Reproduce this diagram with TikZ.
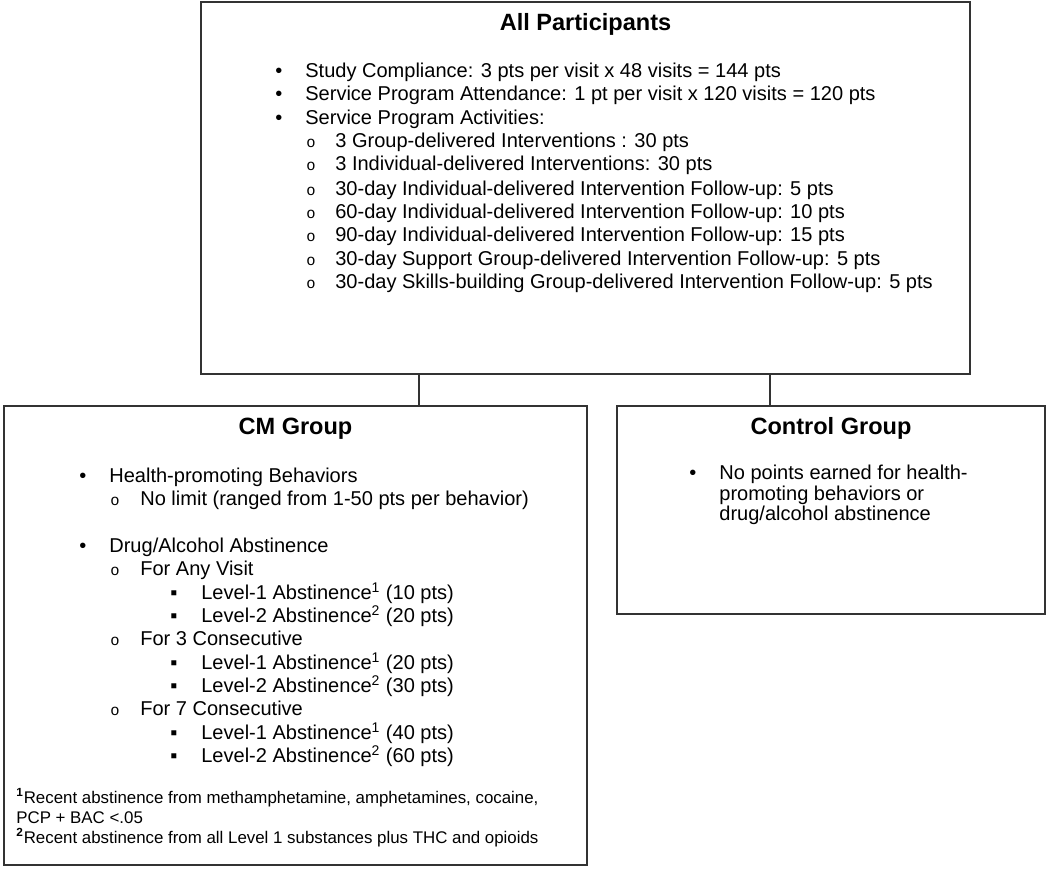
\documentclass[tikz,border=0pt]{standalone}
\usepackage{fontspec}
\setmainfont{Liberation Sans}
\newfontfamily\markfont{Liberation Mono}

\begin{document}
\begin{tikzpicture}[x=0.02cm, y=-0.02cm,
  box/.style={draw=black!80, line width=0.8pt, inner sep=0},
  link/.style={draw=black!80, line width=0.8pt},
  title/.style={anchor=base, inner sep=0, font=\fontsize{13.4}{16}\selectfont\bfseries},
  item/.style={anchor=base west, inner sep=0, font=\fontsize{11.4}{13}\selectfont},
  note/.style={anchor=base west, inner sep=0, font=\fontsize{9.6}{11}\selectfont},
  dot/.style={item},
  ring/.style={anchor=base west, inner sep=0, font=\fontsize{8.8}{11}\markfont},
  square/.style={item}]
  \useasboundingbox (0,0) rectangle (1050,868);

  % Boxes
  \node[box, minimum width=15.38cm, minimum height=7.44cm] (all) at (585.5,188) {};
  \node[box, minimum width=11.66cm, minimum height=9.18cm] (cm) at (295.5,635.5) {};
  \node[box, minimum width=8.56cm, minimum height=4.16cm] (control) at (831,510) {};

  % Connectors
  \coordinate (cmjoin) at (419,406);
  \coordinate (controljoin) at (770,406);
  \draw[link] (all.south -| cmjoin) -- (cmjoin);
  \draw[link] (all.south -| controljoin) -- (controljoin);

  % All Participants
  \node[title] (alltitle) at (585.5,31) {All Participants};
  \node[dot] (a1b) at (275,78) {•};
  \node[item] (a1) at (305,78) {Study Compliance: 3 pts per visit x 48 visits = 144 pts};
  \node[dot] (a2b) at (275,101) {•};
  \node[item] (a2) at (305,101) {Service Program Attendance: 1 pt per visit x 120 visits = 120 pts};
  \node[dot] (a3b) at (275,125) {•};
  \node[item] (a3) at (305,125) {Service Program Activities:};
  \node[ring] (a4b) at (306,148) {o};
  \node[item] (a4) at (335,148) {3 Group-delivered Interventions : 30 pts};
  \node[ring] (a5b) at (306,171) {o};
  \node[item] (a5) at (335,171) {3 Individual-delivered Interventions: 30 pts};
  \node[ring] (a6b) at (306,195) {o};
  \node[item] (a6) at (335,195) {30-day Individual-delivered Intervention Follow-up: 5 pts};
  \node[ring] (a7b) at (306,218) {o};
  \node[item] (a7) at (335,218) {60-day Individual-delivered Intervention Follow-up: 10 pts};
  \node[ring] (a8b) at (306,241) {o};
  \node[item] (a8) at (335,241) {90-day Individual-delivered Intervention Follow-up: 15 pts};
  \node[ring] (a9b) at (306,265) {o};
  \node[item] (a9) at (335,265) {30-day Support Group-delivered Intervention Follow-up: 5 pts};
  \node[ring] (a10b) at (306,288) {o};
  \node[item] (a10) at (335,288) {30-day Skills-building Group-delivered Intervention Follow-up: 5 pts};

  % CM Group
  \node[title] (cmtitle) at (295.5,434) {CM Group};
  \node[dot] (c1b) at (79,482) {•};
  \node[item] (c1) at (109,482) {Health-promoting Behaviors};
  \node[ring] (c2b) at (110,505) {o};
  \node[item] (c2) at (140,505) {No limit (ranged from 1-50 pts per behavior)};
  \node[dot] (c3b) at (79,552) {•};
  \node[item] (c3) at (109,552) {Drug/Alcohol Abstinence};
  \node[ring] (c4b) at (110,575) {o};
  \node[item] (c4) at (140,575) {For Any Visit};
  \node[square] (c5b) at (170,599) {▪};
  \node[item] (c5) at (201,599) {Level-1 Abstinence\textsuperscript{1} (10 pts)};
  \node[square] (c6b) at (170,622) {▪};
  \node[item] (c6) at (201,622) {Level-2 Abstinence\textsuperscript{2} (20 pts)};
  \node[ring] (c7b) at (110,645) {o};
  \node[item] (c7) at (140,645) {For 3 Consecutive};
  \node[square] (c8b) at (170,669) {▪};
  \node[item] (c8) at (201,669) {Level-1 Abstinence\textsuperscript{1} (20 pts)};
  \node[square] (c9b) at (170,692) {▪};
  \node[item] (c9) at (201,692) {Level-2 Abstinence\textsuperscript{2} (30 pts)};
  \node[ring] (c10b) at (110,715) {o};
  \node[item] (c10) at (140,715) {For 7 Consecutive};
  \node[square] (c11b) at (170,739) {▪};
  \node[item] (c11) at (201,739) {Level-1 Abstinence\textsuperscript{1} (40 pts)};
  \node[square] (c12b) at (170,762) {▪};
  \node[item] (c12) at (201,762) {Level-2 Abstinence\textsuperscript{2} (60 pts)};

  % Footnotes
  \node[note] (fn1) at (16,803) {\textsuperscript{\bfseries 1}Recent abstinence from methamphetamine, amphetamines, cocaine,};
  \node[note] (fn1b) at (16,823) {PCP + BAC <.05};
  \node[note] (fn2) at (16,843) {\textsuperscript{\bfseries 2}Recent abstinence from all Level 1 substances plus THC and opioids};

  % Control Group
  \node[title] (controltitle) at (831,434) {Control Group};
  \node[dot] (k1b) at (689,479) {•};
  \node[item] (k1) at (719,479) {No points earned for health-};
  \node[item] (k2) at (719,500) {promoting behaviors or};
  \node[item] (k3) at (719,520) {drug/alcohol abstinence};
\end{tikzpicture}
\end{document}
